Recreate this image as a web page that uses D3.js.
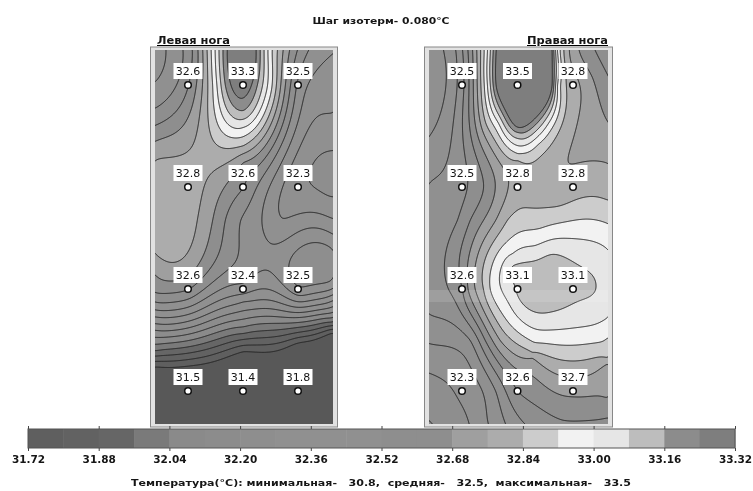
<!DOCTYPE html>
<html><head><meta charset="utf-8">
<script src="https://cdn.jsdelivr.net/npm/d3@7"></script>
<style>html,body{margin:0;background:#fff}svg{display:block}text{font-family:"DejaVu Sans",sans-serif;font-weight:700;fill:#141414}</style>
</head><body><svg id="c" width="753" height="491"></svg>
<script>
const titleText = "Шаг изотерм- 0.080°C";
const leftName = "Левая нога", rightName = "Правая нога";
const footerText = "Температура(°С): минимальная-   30.8,  средняя-   32.5,  максимальная-   33.5";
const leftValues  = [[32.6,33.3,32.5],[32.8,32.6,32.3],[32.6,32.4,32.5],[31.5,31.4,31.8]];
const rightValues = [[32.5,33.5,32.8],[32.5,32.8,32.8],[32.6,33.1,33.1],[32.3,32.6,32.7]];
// surface readings between the sensors: [column, row, temperature]
const leftReadings = [
 [1,.245,33.16],[1,.41,33.0],[1,.59,32.84],[1,.755,32.68],
 [.47,0,32.95],[1.49,0,32.95],[.67,0,33.16],[1.25,0,33.16],[.44,-.34,32.95],[1.49,-.34,32.95],[1,-.34,33.4],
 [-.6,.39,32.6],[-.6,.22,32.52],[-.6,-.04,32.44],[-.41,-.34,32.44],[-.1,-.34,32.52],[.07,-.34,32.6],
 [-.6,.735,32.76],[-.6,1,32.79],[-.6,1.65,32.76],[-.6,1.86,32.68],[-.6,2.03,32.6],[-.6,2.2,32.44],[-.6,2.4,32.2],[-.6,2.6,31.96],[-.6,2.76,31.72],[-.6,3.3,31.3],
 [1,2.1,32.3],[1,2.4,32.0],[1,2.61,31.72],[1,3.3,31.3],
 [2.6,1.76,32.56],[2.6,1.96,32.48],[2.6,2.1,32.3],[2.6,2.3,32.0],[2.6,2.43,31.72],[2.6,3.3,31.3],[2,2.62,31.6],[2,3,31.4],
 [2.6,.27,32.36],[2.6,-.3,32.44],[2.6,1,32.26],[2.6,1.3,32.36],[2.6,1.45,32.44],[2.6,1.6,32.52],
 [.16,1.32,32.76],[.44,1.32,32.68],[.67,1.32,32.6],[.95,1.32,32.52],[1.7,1.3,32.36]
];
const rightReadings = [
 [1,.37,33.3],[1,.46,33.16],[1,.52,33.08],[1,.59,33.0],[1,.67,32.92],[1,.735,32.84],
 [.65,0,33.3],[1.59,0,33.3],[.45,0,33.0],[1.71,0,33.0],[.65,-.34,33.3],[1.59,-.34,33.3],[.45,-.34,33.0],[1.71,-.34,33.0],
 [.65,.37,33.0],[1.55,.37,33.0],[.42,.37,32.84],[1.8,.37,32.84],[.72,.57,32.9],[1.37,.6,32.9],
 [1.3,1,32.8],[1.7,1,32.78],[1.5,.85,32.8],
 [2.6,.34,32.68],[2.6,.76,32.76],[2.6,-.34,32.55],[2.34,-.08,32.68],
 [1.2,1.2,32.84],[2.6,1.12,32.84],[1.4,1.4,32.92],[2.6,1.35,32.92],[.9,1.65,33.0],[1.3,1.57,33.0],[2.6,1.6,33.0],
 [.9,1.77,33.08],[1.6,1.75,33.12],[2.4,2,33.08],[1.6,2.22,33.08],
 [-.25,2,32.52],[.1,2,32.68],[.23,2,32.76],[.38,2,32.84],[.5,2,32.92],[.7,2,33.0],[.92,2,33.06],
 [2.6,2.28,33.0],[2.6,2.48,32.92],[2.6,2.67,32.84],[2.6,2.73,32.76],[2.6,3.06,32.68],[2.6,3.26,32.6],
 [-.6,.5,32.36],[-.6,.96,32.44],[-.6,1.32,32.46],[-.6,2,32.47],[-.6,2.24,32.44],[-.6,2.53,32.36],[-.6,2.82,32.28],[-.6,-.34,32.3],
 [-.34,-.34,32.36],[-.12,-.34,32.44],
 [.1,3.28,32.28],[.45,3.28,32.36],[.75,3.28,32.44],[1.8,3.28,32.6],
 [.36,3,32.36],[.6,3,32.44],[.78,3,32.52],
 [1.23,2.5,32.92],[.9,2.5,32.84],[.68,2.5,32.76],[.54,2.5,32.68],[.41,2.5,32.6],[.29,2.5,32.52],[.14,2.5,32.44],
 [1.26,2.85,32.68],[1.26,2.62,32.84],[1.26,2.67,32.76],
 [-.09,1.32,32.52],[.14,1.32,32.6],[.38,1.32,32.68],[.6,1.32,32.76],[.81,1.32,32.84],[.38,1,32.6],[.7,1,32.72]
];
const tickValues = [31.72,31.88,32.04,32.20,32.36,32.52,32.68,32.84,33.00,33.16,33.32];
const bandGreys = [0x5e,0x62,0x66,0x7a,0x8a,0x8c,0x8e,0x90,0x90,0x90,0x8e,0x8e,0x9f,0xac,0xcc,0xf2,0xe6,0xbd,0x8c,0x7e];
const lowGrey = 0x58;
const step = 0.08;

const svg = d3.select("#c");
const defs = svg.append("defs");
defs.append("filter").attr("id","soft").attr("x",0).attr("y",0).attr("width",1).attr("height",1)
  .append("feGaussianBlur").attr("stdDeviation",0.5);
const root = svg.append("g").attr("filter","url(#soft)");
root.append("rect").attr("width",753).attr("height",491).attr("fill","#fff");

const thresholds = d3.range(bandGreys.length).map(i => +(tickValues[0] + i*step).toFixed(2));
const grey = g => d3.rgb(g,g,g).formatHex();

function surface(values,readings,cold){
  const pts=[]; values.forEach((r,j)=>r.forEach((v,i)=>pts.push([i,j,(cold&&j===3)?Math.min(v,31.45):v])));
  readings.forEach(p=>pts.push(p));
  const n=pts.length, N=n+3, A=d3.range(N).map(()=>new Array(N+1).fill(0));
  const U=(r2)=>r2>0?r2*Math.log(r2)/2:0;
  pts.forEach((p,a)=>{pts.forEach((q,b)=>{A[a][b]=U((p[0]-q[0])**2+(p[1]-q[1])**2)});
    A[a][a]+=0.0015;
    A[a][n]=1;A[a][n+1]=p[0];A[a][n+2]=p[1];A[n][a]=1;A[n+1][a]=p[0];A[n+2][a]=p[1];A[a][N]=p[2];});
  for(let c=0;c<N;c++){let m=c;for(let r=c+1;r<N;r++)if(Math.abs(A[r][c])>Math.abs(A[m][c]))m=r;
    [A[c],A[m]]=[A[m],A[c]];
    for(let r=0;r<N;r++)if(r!==c){const f=A[r][c]/A[c][c];for(let k=c;k<=N;k++)A[r][k]-=f*A[c][k];}}
  const w=A.map((r,i)=>r[N]/r[i]);
  return (x,y)=>{let s=w[n]+w[n+1]*x+w[n+2]*y;pts.forEach((p,i)=>{s+=w[i]*U((x-p[0])**2+(y-p[1])**2)});return s;};
}

function label(sel,x,y,w,anchor,size,txt){
  sel.append("text").attr("x",x).attr("y",y).attr("text-anchor",anchor).attr("font-size",size)
    .attr("textLength",w).attr("lengthAdjust","spacingAndGlyphs").attr("xml:space","preserve").text(txt);
}

function panel(id,values,readings,cold,box,colX,rowY,name,nameX,nameW,anchor,stripe){
  const g=root.append("g");
  const x=d3.scalePoint().domain([0,1,2]).range(colX);
  const y=d3.scalePoint().domain([0,1,2,3]).range(rowY);
  g.append("rect").attr("x",box.x-4.5).attr("y",box.y-3).attr("width",box.w+9).attr("height",box.h+6).attr("fill","#e2e2e2").attr("stroke","#888").attr("stroke-width",1);
  defs.append("clipPath").attr("id",id).append("rect").attr("x",box.x).attr("y",box.y).attr("width",box.w).attr("height",box.h);
  const inner=g.append("g").attr("clip-path",`url(#${id})`);
  inner.append("rect").attr("x",box.x).attr("y",box.y).attr("width",box.w).attr("height",box.h).attr("fill",grey(lowGrey));
  const f=surface(values,readings,cold), pad=3, W=box.w+2*pad, H=box.h+2*pad;
  const ix=d3.scaleLinear().domain(colX).range([0,2]), iy=d3.scaleLinear().domain(rowY).range([0,3]);
  const grid=new Float64Array(W*H);
  for(let j=0;j<H;j++)for(let i=0;i<W;i++)grid[j*W+i]=f(ix(box.x-pad+i),iy(box.y-pad+j));
  const cs=d3.contours().size([W,H]).smooth(true).thresholds(thresholds)(grid);
  const path=d3.geoPath();
  const cg=inner.append("g").attr("transform",`translate(${box.x-pad},${box.y-pad})`);
  cg.selectAll("path.fill").data(cs).join("path").attr("class","fill").attr("d",path).attr("fill",(d,i)=>grey(bandGreys[i]));
  cg.selectAll("path.line").data(cs).join("path").attr("class","line").attr("d",path).attr("fill","none").attr("stroke","#222").attr("stroke-width",1);
  if(stripe) inner.append("rect").attr("x",box.x).attr("y",stripe[0]).attr("width",box.w).attr("height",stripe[1]).attr("fill","#fff").attr("opacity",.13);
  label(g.append("g").attr("text-decoration","underline"),nameX,44,nameW,anchor,10,name);
  const flat=values.flatMap((r,j)=>r.map((v,i)=>({v,i,j})));
  const s=g.selectAll("g.s").data(flat).join("g").attr("transform",d=>`translate(${x(d.i)},${y(d.j)})`);
  s.append("circle").attr("r",3.3).attr("fill","#fff").attr("stroke","#111").attr("stroke-width",1.5);
  s.append("rect").attr("x",-14.5).attr("y",-22).attr("width",29).attr("height",16).attr("fill","#fff");
  s.append("text").attr("y",-10).attr("text-anchor","middle").attr("font-size",11).style("font-weight",400).text(d=>d.v.toFixed(1));
}
panel("cl",leftValues,leftReadings,true,{x:155,y:50,w:178,h:374},[188,298],[85,391],leftName,157,73,"start",null);
panel("cr",rightValues,rightReadings,false,{x:429,y:50,w:179,h:374},[462,573],[85,391],rightName,608,81,"end",[290,12]);

// colour bar
const lx=d3.scaleLinear().domain([tickValues[0],tickValues[tickValues.length-1]]).range([28,735]);
const leg=root.append("g");
leg.selectAll("rect").data(thresholds).join("rect").attr("x",d=>lx(d)).attr("y",429).attr("width",d=>lx(d+step)-lx(d)+0.5).attr("height",19).attr("fill",(d,i)=>grey(bandGreys[i]));
leg.append("rect").attr("x",28).attr("y",429).attr("width",707).attr("height",19).attr("fill","none").attr("stroke","#555");
const ax=root.append("g").attr("transform","translate(0,448)").call(d3.axisBottom(lx).tickValues(tickValues).tickFormat(d3.format(".2f")).tickSize(3));
ax.select(".domain").remove();
ax.selectAll("text").attr("font-size",10.5).attr("dy",9).style("font-family",'"DejaVu Sans"').attr("fill","#141414");
ax.selectAll("line").attr("stroke","#444");
const axTop=root.append("g").attr("transform","translate(0,429)").call(d3.axisTop(lx).tickValues(tickValues).tickFormat("").tickSize(3));
axTop.select(".domain").remove();
axTop.selectAll("line").attr("stroke","#444");

label(root,381,24,137,"middle",9,titleText);
label(root,381,486,500,"middle",9.5,footerText);
</script></body></html>
